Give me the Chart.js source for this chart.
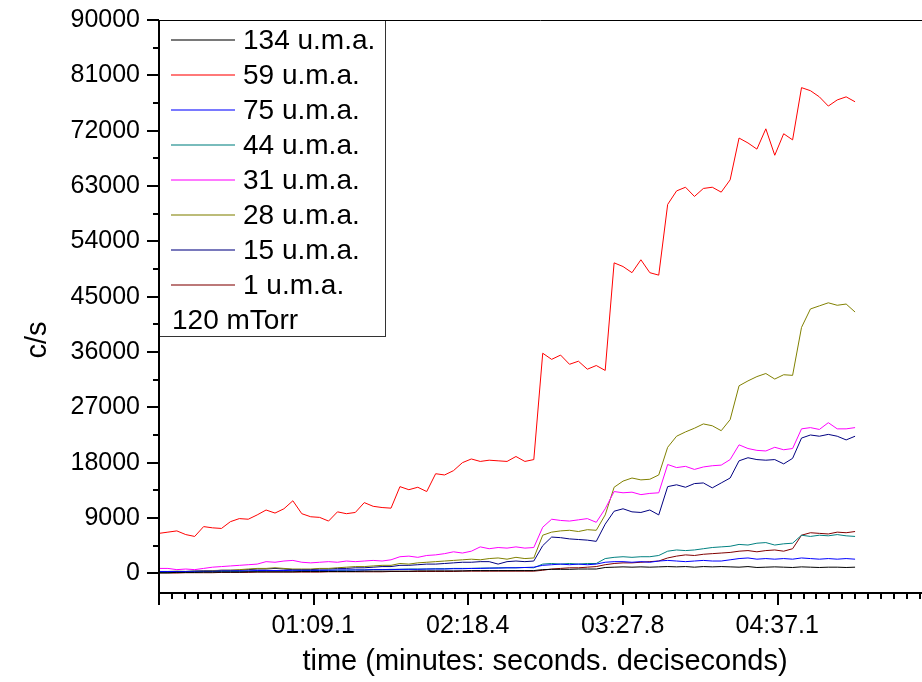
<!DOCTYPE html>
<html>
<head>
<meta charset="utf-8">
<script src="https://cdn.jsdelivr.net/npm/chart.js@4.4.0/dist/chart.umd.min.js"></script>
<style>
  html, body { margin: 0; padding: 0; background: #fff; }
  #wrap { width: 922px; height: 682px; }
</style>
</head>
<body>
<div id="wrap"><canvas id="massChart" width="922" height="682"></canvas></div>
<script>
// time in seconds
const times = [0,4,8,12,16,20,24,28,32,36,40,44,48,52,56,60,64,68,72,76,80,84,88,92,96,100,104,108,112,116,120,124,128,132,136,140,144,148,152,156,160,164,168,
  172,176,180,184,188,192,196,200,204,208,212,216,220,224,228,232,236,240,244,248,252,256,260,264,268,272,276,280,284,288,292,296,300,304,308,312];

// counts per second, one array per mass
const mass134 = [100,100,150,150,150,200,200,200,200,200,250,250,250,250,250,250,300,300,300,300,300,300,300,350,350,350,350,350,350,400,400,400,400,400,400,450,450,450,450,450,450,450,450,
  600,650,650,650,700,700,700,950,1000,1050,1000,1050,1000,1050,1100,1050,1100,1000,1100,1050,1100,1050,1000,1100,950,1000,1050,1000,950,1050,1000,950,1000,1000,950,1000];
const mass59 = [6500,6700,6900,6300,6000,7600,7400,7300,8400,8900,8800,9500,10300,9800,10500,11800,9700,9200,9100,8500,10000,9700,9900,11500,10900,10700,10600,14100,13600,14000,13300,16200,16000,16700,18000,18600,18200,18400,18300,18200,19000,18200,18500,
  35800,34800,35500,34000,34500,33200,33800,33000,50500,49900,48900,51000,48900,48500,60000,62200,62800,61300,62600,62800,62000,64000,70800,70000,69000,72300,68000,71500,70500,79000,78500,77500,76000,77000,77500,76700];
const mass75 = [300,300,300,300,350,350,350,400,400,400,400,450,450,450,450,500,500,500,500,500,550,550,550,550,600,600,600,650,650,650,700,700,700,750,750,800,800,850,850,900,900,950,1000,
  1300,1400,1500,1400,1500,1400,1500,1800,1900,1900,1800,1900,1800,2000,2100,2000,1900,2000,2100,2000,2000,2200,2400,2500,2300,2400,2300,2400,2300,2500,2400,2300,2400,2300,2400,2300];
const mass44 = [100,100,150,200,200,250,250,300,300,300,350,350,400,400,400,400,450,450,450,500,500,500,550,550,600,600,650,650,700,700,700,750,750,800,800,800,850,850,900,900,900,950,900,
  1500,1600,1500,1600,1500,1600,1600,2400,2600,2700,2600,2700,2700,2900,3600,3800,3700,3800,4000,4200,4300,4400,4700,4600,4900,5000,4600,4800,4900,6200,6000,6200,6100,6300,6100,6000];
const mass31 = [800,800,600,700,600,800,1000,1100,1200,1300,1400,1500,1900,1800,2000,2100,1800,1700,1800,1900,1800,2000,1900,2000,2100,2000,2200,2700,2800,2600,2900,3000,3200,3500,3300,3600,4300,4000,4200,4100,4300,4100,4200,
  7500,8800,8600,8500,8700,8900,8300,10500,13300,13100,13200,12800,13000,13100,17700,17200,17400,16900,17300,17500,17600,18500,20900,20300,20000,19900,20500,20100,20300,23500,23700,23400,24500,23500,23500,23700];
const mass28 = [300,300,350,300,400,400,450,500,500,600,700,800,800,900,800,700,700,700,800,800,900,1000,1100,1100,1200,1300,1300,1600,1500,1700,1800,1900,2000,2100,2200,2300,2200,2400,2500,2300,2600,2400,2500,
  6200,6700,6900,7000,6800,7100,7000,9500,14000,15000,15500,15200,15300,16000,20500,22300,23000,23600,24300,24000,23200,25000,30500,31300,32000,32500,31600,32300,32200,40000,43000,43500,44000,43600,43800,42500];
const mass15 = [200,200,300,300,300,400,400,500,500,500,600,700,700,800,700,600,600,600,700,700,800,800,900,900,1000,1100,1100,1300,1300,1400,1500,1500,1600,1700,1800,1800,1900,1900,1500,1900,2000,1900,2000,
  4500,5900,5800,5600,5500,5400,5200,8000,10100,10500,10000,9900,10300,9500,14100,14400,14000,14600,14700,13900,14700,15500,18300,18800,18500,18400,18500,17800,18700,22000,22500,22300,22600,22300,21700,22300];
const mass1 = [50,50,50,100,100,100,100,150,150,150,150,200,200,200,200,200,200,200,200,250,250,250,250,250,250,250,300,300,300,300,300,300,300,300,350,350,350,350,350,350,350,350,350,
  500,700,800,900,900,1000,1100,1400,1600,1700,1700,1800,1900,2000,2500,2800,3000,2900,3100,3200,3300,3400,3600,3700,3500,3700,3800,3600,4000,6200,6600,6500,6400,6700,6600,6800];

const seriesNames = ['134 u.m.a.', '59 u.m.a.', '75 u.m.a.', '44 u.m.a.', '31 u.m.a.', '28 u.m.a.', '15 u.m.a.', '1 u.m.a.'];
const seriesValues = [mass134, mass59, mass75, mass44, mass31, mass28, mass15, mass1];
const seriesColors = ['#000000', '#ff0000', '#0000ff', '#008080', '#ff00ff', '#808000', '#000080', '#800000'];
const pressureNote = '120 mTorr';

const xTickValues = [69.1, 138.4, 207.8, 277.1];
const yTickValues = [0, 9000, 18000, 27000, 36000, 45000, 54000, 63000, 72000, 81000, 90000];
const xTitle = 'time (minutes: seconds. deciseconds)';
const yTitle = 'c/s';

const fontFamily = '"Liberation Sans", Arial, sans-serif';

function fmtTime(v) {
  var m = Math.floor(v / 60);
  var s = v - m * 60;
  var ss = s.toFixed(1);
  if (s < 10) ss = '0' + ss;
  return (m < 10 ? '0' : '') + m + ':' + ss;
}

var datasets = seriesNames.map(function(name, k) {
  return {
    label: name,
    data: times.map(function(t, i) { return { x: t, y: seriesValues[k][i] }; }),
    borderColor: seriesColors[k],
    borderWidth: 1,
    pointRadius: 0,
    tension: 0,
    fill: false
  };
});

// axis lines, major + minor ticks, titles
var axesPlugin = {
  id: 'originAxes',
  afterDraw: function(chart) {
    var ctx = chart.ctx, a = chart.chartArea;
    var xs = chart.scales.x, ys = chart.scales.y;
    ctx.save();
    ctx.strokeStyle = '#000';
    // top frame
    ctx.lineWidth = 1;
    ctx.beginPath(); ctx.moveTo(a.left, a.top + 0.5); ctx.lineTo(a.right, a.top + 0.5); ctx.stroke();
    ctx.lineWidth = 2;
    // y axis line (runs down through the x=0 tick)
    ctx.beginPath(); ctx.moveTo(a.left, a.top); ctx.lineTo(a.left, a.bottom + 12); ctx.stroke();
    // x axis line
    ctx.beginPath(); ctx.moveTo(a.left, a.bottom); ctx.lineTo(a.right, a.bottom); ctx.stroke();

    // y ticks
    var yStep = yTickValues[1] - yTickValues[0];
    yTickValues.forEach(function(v) {
      var py = Math.round(ys.getPixelForValue(v));
      ctx.beginPath(); ctx.moveTo(a.left - 12, py); ctx.lineTo(a.left, py); ctx.stroke();
      var mv = v + yStep / 2;
      if (mv < ys.max) {
        var my = Math.round(ys.getPixelForValue(mv));
        ctx.beginPath(); ctx.moveTo(a.left - 6, my); ctx.lineTo(a.left, my); ctx.stroke();
      }
    });

    // x ticks
    var xStep = (xTickValues[xTickValues.length - 1] - xTickValues[0]) / (xTickValues.length - 1);
    var minor = xStep / 12;
    for (var n = 1; n * minor <= xs.max; n++) {
      var px = Math.round(xs.getPixelForValue(n * minor));
      var len = (n % 12 === 0) ? 12 : 6;
      ctx.beginPath(); ctx.moveTo(px, a.bottom); ctx.lineTo(px, a.bottom + len); ctx.stroke();
    }

    // titles
    ctx.fillStyle = '#000';
    ctx.font = '29px ' + fontFamily;
    ctx.textAlign = 'center';
    ctx.textBaseline = 'middle';
    ctx.fillText(xTitle, 545, 662);
    ctx.save();
    ctx.translate(38, 340);
    ctx.rotate(-Math.PI / 2);
    ctx.fillText(yTitle, 0, 0);
    ctx.restore();
    ctx.restore();
  }
};

// boxed legend in the top-left corner of the plot
var legendPlugin = {
  id: 'boxLegend',
  afterDatasetsDraw: function(chart) {
    var ctx = chart.ctx, a = chart.chartArea;
    var w = 226, h = 316, rowH = 35;
    var top = Math.round(a.top), left = Math.round(a.left);
    ctx.save();
    ctx.fillStyle = '#fff';
    ctx.fillRect(left, top, w, h);
    ctx.strokeStyle = '#333';
    ctx.lineWidth = 1;
    ctx.strokeRect(left + 0.5, top + 0.5, w, h);
    ctx.font = '28px ' + fontFamily;
    ctx.textBaseline = 'middle';
    ctx.textAlign = 'left';
    chart.data.datasets.forEach(function(ds, i) {
      var y = top + 20 + i * rowH;
      ctx.strokeStyle = ds.borderColor;
      ctx.lineWidth = 1.5;
      ctx.globalAlpha = 0.7;
      ctx.beginPath(); ctx.moveTo(left + 12, y); ctx.lineTo(left + 76, y); ctx.stroke();
      ctx.globalAlpha = 1;
      ctx.fillStyle = '#000';
      ctx.fillText(ds.label, left + 84, y + 1);
    });
    ctx.fillText(pressureNote, left + 13, top + 20 + seriesNames.length * rowH + 1);
    ctx.restore();
  }
};

new Chart(document.getElementById('massChart').getContext('2d'), {
  type: 'line',
  data: { datasets: datasets },
  options: {
    responsive: false,
    animation: false,
    devicePixelRatio: 1,
    layout: { padding: { top: 20, right: 0, bottom: 0, left: 0 } },
    plugins: { legend: { display: false }, tooltip: { enabled: false } },
    scales: {
      x: {
        type: 'linear',
        min: 0,
        max: 342,
        grid: { display: false, drawTicks: false },
        border: { display: false },
        afterBuildTicks: function(scale) {
          scale.ticks = xTickValues.map(function(v) { return { value: v }; });
        },
        afterFit: function(scale) {
          scale.height = 89;
          scale.paddingLeft = 0; scale.paddingRight = 0;
        },
        ticks: {
          autoSkip: false,
          maxRotation: 0,
          padding: 18,
          color: '#000',
          font: { family: fontFamily, size: 25 },
          callback: function(v) { return fmtTime(v); }
        }
      },
      y: {
        min: -3200,
        max: 90000,
        grid: { display: false, drawTicks: false },
        border: { display: false },
        afterBuildTicks: function(scale) {
          scale.ticks = yTickValues.map(function(v) { return { value: v }; });
        },
        afterFit: function(scale) {
          scale.width = 159;
          scale.paddingTop = 0; scale.paddingBottom = 0;
        },
        ticks: {
          autoSkip: false,
          padding: 19,
          color: '#000',
          font: { family: fontFamily, size: 25 },
          callback: function(v) { return String(v); }
        }
      }
    }
  },
  plugins: [legendPlugin, axesPlugin]
});
</script>
</body>
</html>
